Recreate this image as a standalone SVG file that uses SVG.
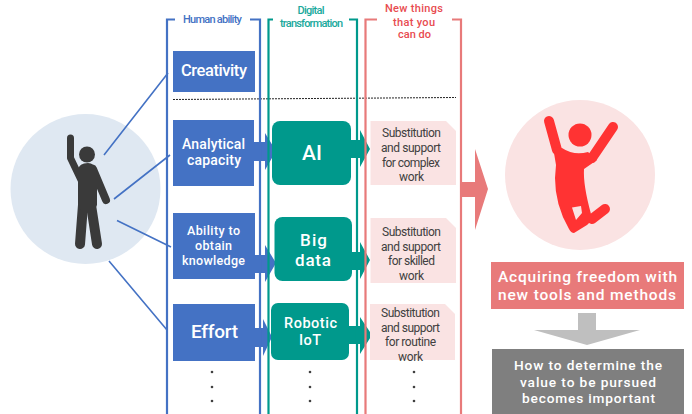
<svg xmlns="http://www.w3.org/2000/svg" width="692" height="414" viewBox="0 0 692 414">
<style>
text{font-family:Roboto,"Noto Sans","Liberation Sans",sans-serif;text-anchor:middle}
.w{fill:#fff;font-weight:500}
.h{font-size:11px;font-weight:500}
.s{font-size:12px;fill:#404040;font-weight:400}
.bk{fill:none;stroke-width:2.2}
.blue{fill:#4472c4}
.green{fill:#00998c}
.note{fill:#fae3e3}
.con{stroke:#4472c4;stroke-width:1.6;fill:none}
.dot{fill:#404040}
</style>
<rect width="692" height="414" fill="#fff"/>
<g id="circle-left"><circle cx="85.500" cy="189" r="75" fill="#dfe8f2"/>
<g fill="none" stroke="#3a3a3a" stroke-linecap="round" stroke-linejoin="round"><path d="M70.500 138V158L81 180" stroke-width="7"/><path d="M93 169L106 200" stroke-width="8"/><path d="M80 244L83 205" stroke-width="10"/><path d="M97 244L91 205" stroke-width="10"/></g>
<circle cx="87" cy="154.500" r="8" fill="#3a3a3a"/><path d="M78 170Q79 163 88 163Q94 163 97 170L97 205L92 215L88 212L84 215L78 205Z" fill="#3a3a3a"/></g>
<g id="connectors">
<path class="con" d="M104 155L168 73M114 199L170 155M117 220.500L171 247M109 261L167 330"/>
<path d="M173 99.500L456 97.500" stroke="#222" stroke-width="1" stroke-dasharray="2 1" fill="none"/>
<path class="blue" d="M254 142H265V133L276 151L265 170V161H254ZM255 255H265V245L276 263L265 282V273H255ZM255 328H263V319L272 337L263 356V347H255Z"/>
<path class="green" d="M351 140H360V130L370 149L360 167V158H351ZM352 252H360V242L370 260L360 279V270H352ZM349 326H360V317L372 335L360 354V344H349Z"/>
<path d="M461 182H475V149L488 189L475 230V197H461Z" fill="#e87a7a"/>
<path d="M578 313H596V330H640L587 345L534 330H578Z" fill="#bfbfbf"/>
</g>
<g id="col-human"><path class="bk" stroke="#4472c4" d="M175 19.500H167V414M250 19.500H260V414"/><text class="h" x="212.500" y="23" fill="#4472c4" textLength="59">Human ability</text></g>
<g id="col-digital"><path class="bk" stroke="#00998c" d="M273 19.500H268.500V414M349 19.500H357V414"/><text class="h" x="311" y="14" fill="#1aa99c" textLength="27">Digital</text><text class="h" x="311.500" y="27" fill="#1aa99c" textLength="63">transformation</text></g>
<g id="col-new"><path class="bk" stroke="#e87a7a" d="M377 19.500H365.500V414M452 19.500H461V414"/><text class="h" fill="#e84c50" x="414" y="12" textLength="58">New things</text><text class="h" fill="#e84c50" x="414" y="26" textLength="42">that you</text><text class="h" fill="#e84c50" x="414.500" y="38" textLength="33">can do</text></g>
<g id="creativity"><rect class="blue" x="173" y="51" width="82" height="41"/><text class="w" x="214" y="76" font-size="16.500" textLength="66">Creativity</text></g>
<g id="analytical"><rect class="blue" x="173" y="120" width="81" height="66"/><text class="w" x="213.500" y="149" font-size="14" textLength="63">Analytical</text><text class="w" x="214" y="165" font-size="14" textLength="54">capacity</text></g>
<g id="ability"><rect class="blue" x="173" y="213" width="82" height="66"/><text class="w" x="213.500" y="235" font-size="12.500" textLength="53">Ability to</text><text class="w" x="213.500" y="250" font-size="12.500" textLength="37">obtain</text><text class="w" x="213.500" y="265" font-size="12.500" textLength="63">knowledge</text></g>
<g id="effort"><rect class="blue" x="173" y="304" width="82" height="57"/><text class="w" x="214.500" y="338" font-size="19" textLength="47">Effort</text></g>
<g id="dots-1" class="dot"><circle cx="212" cy="372" r="1.300"/><circle cx="212" cy="387" r="1.300"/><circle cx="212" cy="401" r="1.300"/></g>
<g id="ai"><rect class="green" x="272" y="121" width="79" height="64" rx="8"/><text class="w" x="312" y="160" font-size="21" textLength="20">AI</text></g>
<g id="bigdata"><rect class="green" x="274.500" y="217" width="77.500" height="64" rx="8"/><text class="w" x="313.500" y="246" font-size="17" textLength="27">Big</text><text class="w" x="313" y="266" font-size="17" textLength="36">data</text></g>
<g id="robotic"><rect class="green" x="271" y="303" width="78" height="57" rx="7"/><text class="w" x="310.500" y="328" font-size="14.500" textLength="53">Robotic</text><text class="w" x="310" y="345" font-size="14.500" textLength="22">IoT</text></g>
<g id="dots-2" class="dot"><circle cx="310" cy="372" r="1.300"/><circle cx="310" cy="387" r="1.300"/><circle cx="310" cy="401" r="1.300"/></g>
<g id="note-1"><path class="note" d="M370.500 121H446L456 131V185H370.500Z"/><text class="s" x="411.500" y="137" textLength="59">Substitution</text><text class="s" x="411" y="152" textLength="60">and support</text><text class="s" x="411" y="167" textLength="58">for complex</text><text class="s" x="411.500" y="181" textLength="25">work</text></g>
<g id="note-2"><path class="note" d="M370.500 218H446L456 228V283H370.500Z"/><text class="s" x="411.500" y="236" textLength="59">Substitution</text><text class="s" x="411" y="251" textLength="60">and support</text><text class="s" x="411.500" y="265" textLength="47">for skilled</text><text class="s" x="411.500" y="280" textLength="25">work</text></g>
<g id="note-3"><path class="note" d="M370 304H445L455 314V360H370Z"/><text class="s" x="410.500" y="317" textLength="59">Substitution</text><text class="s" x="410.500" y="332" textLength="59">and support</text><text class="s" x="410.500" y="346" textLength="51">for routine</text><text class="s" x="410.500" y="361" textLength="25">work</text></g>
<g id="dots-3" class="dot"><circle cx="414" cy="372" r="1.300"/><circle cx="414" cy="387" r="1.300"/><circle cx="414" cy="401" r="1.300"/></g>
<g id="circle-right"><circle cx="580" cy="175" r="75" fill="#fae3e3"/>
<g fill="none" stroke="#ff3333" stroke-linecap="round" stroke-linejoin="round"><path d="M549 121L557 150" stroke-width="10"/><path d="M613 127L592 158" stroke-width="10"/><path d="M592 219L605 209" stroke-width="10"/></g>
<circle cx="580" cy="135" r="11.500" fill="#ff3333"/>
<path d="M553 147L562 148Q574 156 588 152L597 160L584 169Q583 185 591 214L596 216L587 225L574 233Q571 233 569 229Q555 205 555 178L556 165ZM572 207.500L581 206L582 213L576 220Z" fill-rule="evenodd" fill="#ff3333"/></g>
<g id="box-freedom"><rect x="491" y="262" width="193" height="47" fill="#e87a7a"/><text class="w" x="587.500" y="282" font-size="15.500" textLength="179">Acquiring freedom with</text><text class="w" x="587" y="300" font-size="15.500" textLength="178">new tools and methods</text></g>
<g id="box-value"><rect x="492" y="349" width="192" height="65" fill="#7f7f7f"/><text class="w" x="588" y="370" font-size="13.700" textLength="148">How to determine the</text><text class="w" x="588" y="387" font-size="13.700" textLength="136">value to be pursued</text><text class="w" x="588.500" y="403" font-size="13.700" textLength="133">becomes important</text></g>
</svg>
